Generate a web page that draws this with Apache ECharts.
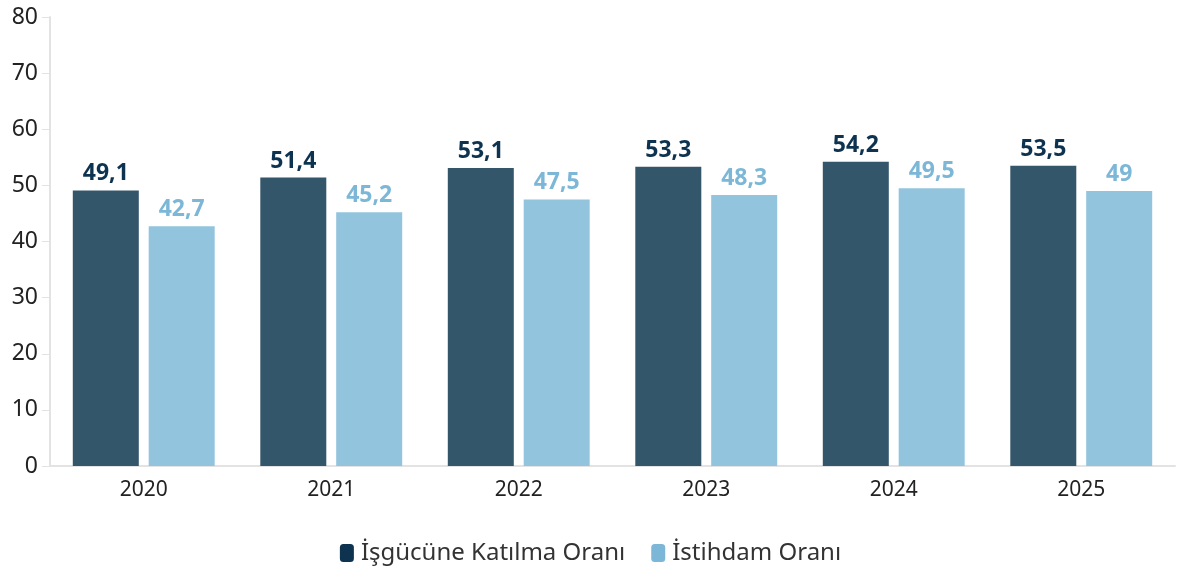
<!DOCTYPE html>
<html>
<head>
<meta charset="utf-8">
<script src="https://cdn.jsdelivr.net/npm/echarts@6/dist/echarts.min.js"></script>
<style>
    html, body { margin: 0; padding: 0; background: #fff; }
    #chart { width: 1181px; height: 578px; }
</style>
</head>
<body>
<div id="chart"></div>
<script>
    // veriler
    var years = ['2020', '2021', '2022', '2023', '2024', '2025'];
    var katilma = [49.1, 51.4, 53.1, 53.3, 54.2, 53.5];
    var istihdam = [42.7, 45.2, 47.5, 48.3, 49.5, 49];
    var yTicks = [0, 10, 20, 30, 40, 50, 60, 70, 80];

    var fontName = '"Noto Sans", "Open Sans", sans-serif';

    function virgul(p) {
        return String(p.value).replace('.', ',');
    }

    var chart = echarts.init(document.getElementById('chart'));

    var option = {
        animation: false,
        textStyle: { fontFamily: fontName },
        grid: { left: 50, right: 6, top: 17, bottom: 112 },
        legend: {
            bottom: 8,
            left: 'center',
            icon: 'roundRect',
            itemWidth: 14,
            itemHeight: 18,
            itemGap: 26,
            textStyle: { fontSize: 24, color: '#333', fontFamily: fontName, padding: [0, 0, 0, 2] },
            data: [
                { name: 'İşgücüne Katılma Oranı', itemStyle: { color: '#0d3350' } },
                { name: 'İstihdam Oranı', itemStyle: { color: '#7cb7d7' } }
            ]
        },
        xAxis: {
            type: 'category',
            data: years,
            axisLine: { lineStyle: { color: '#e3e3e3', width: 2 } },
            axisTick: { alignWithLabel: true, length: 8, lineStyle: { color: '#e3e3e3' } },
            axisLabel: { fontSize: 21, color: '#222', margin: 14 }
        },
        yAxis: {
            type: 'value',
            min: yTicks[0],
            max: yTicks[yTicks.length - 1],
            interval: 10,
            splitLine: { show: false },
            axisLine: { show: true, lineStyle: { color: '#e3e3e3', width: 2 } },
            axisTick: { show: true, length: 8, lineStyle: { color: '#e3e3e3' } },
            axisLabel: { fontSize: 23, color: '#222', margin: 12 }
        },
        series: [{
            name: 'İşgücüne Katılma Oranı',
            type: 'bar',
            data: katilma,
            barWidth: 66,
            barGap: '15%',
            itemStyle: { color: '#34566a' },
            label: {
                show: true,
                position: 'top',
                distance: 5,
                formatter: virgul,
                fontSize: 23,
                fontWeight: 'bold',
                color: '#0d3350'
            }
        }, {
            name: 'İstihdam Oranı',
            type: 'bar',
            data: istihdam,
            barWidth: 66,
            itemStyle: { color: '#92c4de' },
            label: {
                show: true,
                position: 'top',
                distance: 5,
                formatter: virgul,
                fontSize: 23,
                fontWeight: 'bold',
                color: '#7cb7d7'
            }
        }]
    };

    chart.setOption(option);
</script>
</body>
</html>
